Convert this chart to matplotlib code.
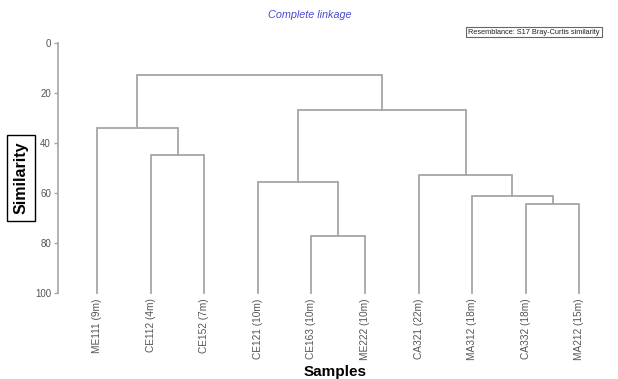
import matplotlib
matplotlib.use("Agg")
from matplotlib import pyplot as plt

# samples, left to right along the dendrogram
labels = ["ME111 (9m)", "CE112 (4m)", "CE152 (7m)", "CE121 (10m)", "CE163 (10m)",
          "ME222 (10m)", "CA321 (22m)", "MA312 (18m)", "CA332 (18m)", "MA212 (15m)"]

# merge steps: (child a, child b, similarity); new nodes are numbered from 10 on
merge_a = [4, 8, 7, 6, 1, 3, 0, 15, 16]
merge_b = [5, 9, 11, 12, 2, 10, 14, 13, 17]
merge_sim = [77.2, 64.3, 61.2, 52.5, 44.5, 55.4, 33.9, 26.5, 12.6]

yticks = [0, 20, 40, 60, 80, 100]

line_col = "#a6a6a6"
text_col = "#555555"
font = "Liberation Sans"

fig = plt.figure(figsize=(6.18, 3.79), dpi=100)
ax = fig.add_axes([58/618, 1-293.3/379, (610-58)/618, 250/379])

xs = {i: float(i) for i in range(len(labels))}
hs = {i: 100.0 for i in range(len(labels))}
node = len(labels)
for a, b, h in zip(merge_a, merge_b, merge_sim):
    ax.plot([xs[a], xs[a], xs[b], xs[b]], [hs[a], h, h, hs[b]],
            color=line_col, lw=1.3, solid_joinstyle="miter", clip_on=False)
    xs[node] = (xs[a] + xs[b]) / 2
    hs[node] = h
    node += 1

ax.set_ylim(100, 0)
ax.set_xlim(-0.73, 9.57)
ax.set_yticks(yticks)
ax.set_yticklabels([str(t) for t in yticks], fontsize=7, color=text_col, family=font)
ax.tick_params(axis="y", direction="out", length=3, width=1, color=line_col, pad=2)
ax.set_xticks([])
for s in ["top", "right", "bottom"]:
    ax.spines[s].set_visible(False)
ax.spines["left"].set_color(line_col)
ax.spines["left"].set_linewidth(1.2)

for i, lab in enumerate(labels):
    ax.text(i, 102, lab, rotation=90, ha="center", va="top",
            fontsize=7.3, color=text_col, family=font)

fig.text(310/618, 1-15/379, "Complete linkage", ha="center", va="center",
         fontsize=7.8, style="italic", color="#4a4ad0", family=font)
fig.text(534/618, 1-32/379, "Resemblance: S17 Bray-Curtis similarity", ha="center",
         va="center", fontsize=5.3, color="#222222", family=font,
         bbox=dict(boxstyle="square,pad=0.25", fc="white", ec="#666666", lw=0.8))
fig.text(21/618, 1-178/379, "Similarity", rotation=90, ha="center", va="center",
         fontsize=11.5, weight="bold", family=font,
         bbox=dict(boxstyle="square,pad=0.4", fc="white", ec="black", lw=1))
fig.text(335/618, 1-372/379, "Samples", ha="center", va="center",
         fontsize=11, weight="bold", family=font)

fig.savefig("out.png", dpi=100)
